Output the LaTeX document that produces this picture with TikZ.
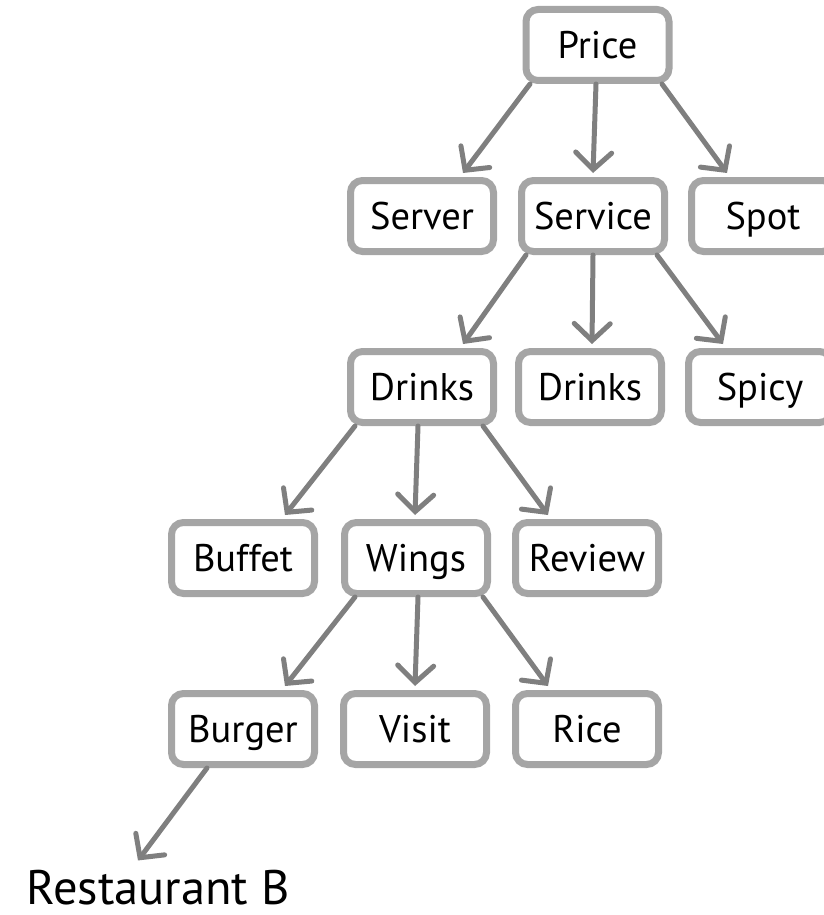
\documentclass[tikz,border=0pt]{standalone}
\usepackage{fontspec}
\setmainfont{PT Sans}
\usetikzlibrary{arrows.meta}
\definecolor{boxline}{HTML}{A5A5A5}
\definecolor{arrline}{HTML}{7F7F7F}
\begin{document}
\begin{tikzpicture}[x=1pt,y=-1pt,
  term/.style={draw=boxline, line width=7pt, rounded corners=12pt, fill=white,
    minimum width=143pt, minimum height=71pt, inner sep=0pt,
    font=\fontsize{38.5}{40}\selectfont, text height=27pt, text depth=0pt},
  link/.style={draw=arrline, line width=5pt, line cap=round,
    -{Straight Barb[length=17pt,width=36pt,line cap=round]}}]
\useasboundingbox (0,0) rectangle (823,915);
% level 0
\node[term] (price) at (597.5,45) {Price};
% level 1
\node[term] (server)  at (422,216) {Server};
\node[term] (service) at (593,216) {Service};
\node[term] (spot)    at (763,216) {Spot};
% level 2
\node[term] (drinksA) at (422,387) {Drinks};
\node[term] (drinksB) at (590,387) {Drinks};
\node[term] (spicy)   at (760,387) {Spicy};
% level 3
\node[term] (buffet) at (243,558) {Buffet};
\node[term] (wings)  at (416,558) {Wings};
\node[term] (review) at (587,558) {Review};
% level 4
\node[term] (burger) at (243,729) {Burger};
\node[term] (visit)  at (415,729) {Visit};
\node[term] (rice)   at (587,729) {Rice};
% result
\node[inner sep=0pt, anchor=base, font=\fontsize{48.5}{50}\selectfont] (rest) at (158,904) {Restaurant B};
% edges
\draw[link] ([xshift=-67.5pt]price.south) -- ([xshift=41pt,yshift=4pt]server.north);
\draw[link] ([xshift=-1.5pt]price.south)  -- ([xshift=0pt,yshift=4pt]service.north);
\draw[link] ([xshift=64.5pt]price.south)  -- ([xshift=-36pt,yshift=4pt]spot.north);
\draw[link] ([xshift=-67pt]service.south) -- ([xshift=41pt,yshift=4pt]drinksA.north);
\draw[link] ([xshift=0pt]service.south)   -- ([xshift=2pt,yshift=4pt]drinksB.north);
\draw[link] ([xshift=64pt]service.south)  -- ([xshift=-37pt,yshift=4pt]spicy.north);
\draw[link] ([xshift=-67pt]drinksA.south) -- ([xshift=42pt,yshift=4pt]buffet.north);
\draw[link] ([xshift=-4pt]drinksA.south)  -- ([xshift=-1pt,yshift=4pt]wings.north);
\draw[link] ([xshift=61pt]drinksA.south)  -- ([xshift=-39pt,yshift=4pt]review.north);
\draw[link] ([xshift=-61pt]wings.south)   -- ([xshift=42pt,yshift=4pt]burger.north);
\draw[link] ([xshift=2pt]wings.south)     -- ([xshift=0pt,yshift=4pt]visit.north);
\draw[link] ([xshift=67pt]wings.south)    -- ([xshift=-39pt,yshift=4pt]rice.north);
\draw[link] ([xshift=-36pt]burger.south)  -- ([xshift=-20pt,yshift=9pt]rest.north);
\end{tikzpicture}
\end{document}
